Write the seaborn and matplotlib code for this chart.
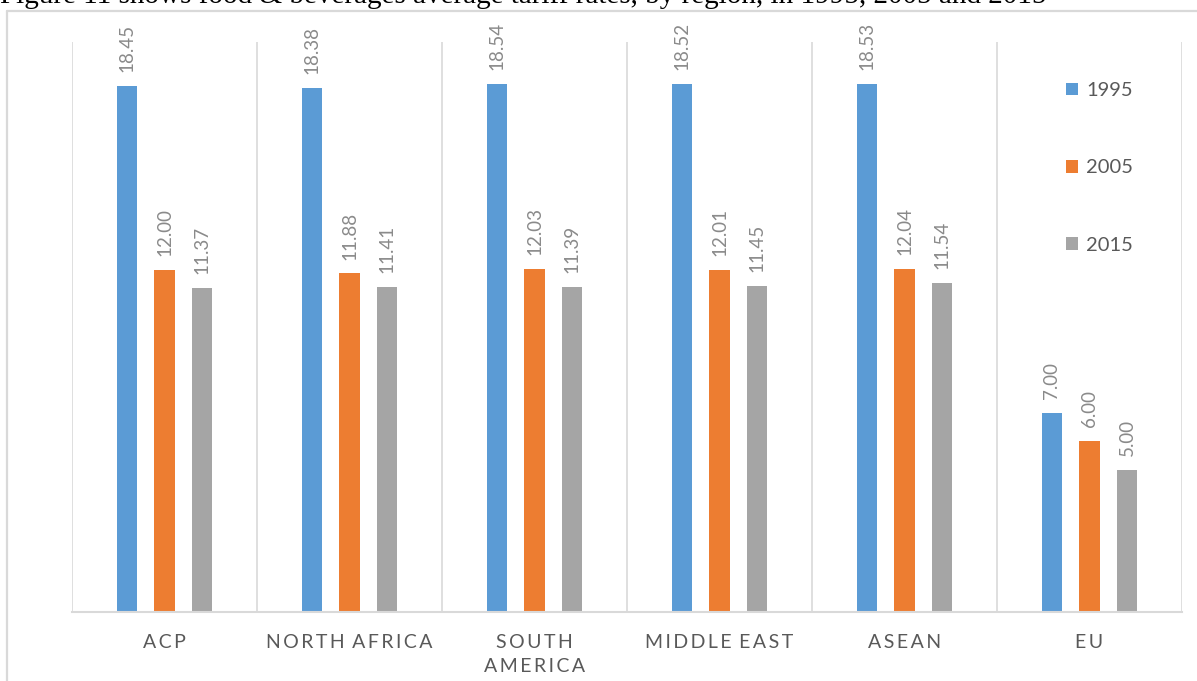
import numpy as np
import pandas as pd
import seaborn as sns
import matplotlib.pyplot as plt
from matplotlib.lines import Line2D
from matplotlib.patches import Patch

# Average food & beverage tariff rates by region
regions = ["ACP", "NORTH AFRICA", "SOUTH\nAMERICA", "MIDDLE EAST", "ASEAN", "EU"]
years = ["1995", "2005", "2015"]
rate_1995 = [18.45, 18.38, 18.54, 18.52, 18.53, 7.00]
rate_2005 = [12.00, 11.88, 12.03, 12.01, 12.04, 6.00]
rate_2015 = [11.37, 11.41, 11.39, 11.45, 11.54, 5.00]
colors = ["#5B9BD5", "#ED7D31", "#A5A5A5"]
caption = ("Figure 11 shows food & beverages average tariff rates, "
           "by region, in 1995, 2005 and 2015")

df = pd.DataFrame({
    "region": regions * 3,
    "year": np.repeat(years, len(regions)),
    "rate": rate_1995 + rate_2005 + rate_2015,
})

sns.set_theme(style="white")
plt.rcParams["font.family"] = ["Lato", "DejaVu Sans"]

W, H = 1197, 681
fig = plt.figure(figsize=(W / 100, H / 100), dpi=100)
ax = fig.add_axes([72 / W, 1 - 612 / H, (1182 - 72) / W, (612 - 42) / H])

sns.barplot(data=df, x="region", y="rate", hue="year", palette=colors,
            width=0.615, gap=0.47, saturation=1, edgecolor="none",
            legend=False, errorbar=None, ax=ax)

for cont in ax.containers:
    ax.bar_label(cont, fmt="%.2f", rotation=90, padding=10,
                 color="#8a8a8a", fontsize=13.5)

ax.set_xlim(-0.5, len(regions) - 0.5)
ax.set_ylim(0, 20)
ax.set_xlabel("")
ax.set_ylabel("")
ax.set_yticks([])

# letter-spaced category labels
def spaced(name):
    lines = []
    for line in name.split("\n"):
        words = ["\u2009".join(w) for w in line.split(" ")]
        lines.append(" \u2009".join(words))
    return "\n".join(lines)

ax.set_xticks(range(len(regions)))
ax.set_xticklabels([spaced(r) for r in regions], color="#595959",
                   fontsize=14, linespacing=1.45)
ax.tick_params(axis="x", which="major", length=0, pad=16)
ax.set_xticks(np.arange(-0.5, len(regions), 1), minor=True)
ax.tick_params(axis="x", which="minor", length=0)
ax.grid(which="minor", axis="x", color="#d9d9d9", lw=1.2)
ax.grid(which="major", axis="x", visible=False)
ax.grid(axis="y", visible=False)
for side in ["top", "left", "right"]:
    ax.spines[side].set_visible(False)
ax.spines["bottom"].set_color("#d9d9d9")
ax.spines["bottom"].set_linewidth(1.5)

handles = [Patch(facecolor=c, edgecolor="none") for c in colors]
fig.legend(handles, years, loc="center left",
           bbox_to_anchor=(1066 / W, 1 - 168 / H), frameon=False,
           handlelength=0.6, handleheight=0.6, handletextpad=0.4,
           labelspacing=3.0, borderpad=0, borderaxespad=0,
           prop=dict(family="Lato", size=14.5), labelcolor="#595959")

# chart border and the caption line above it
fig.add_artist(Line2D([7 / W, 1], [1 - 11 / H] * 2, transform=fig.transFigure,
                      color="#d9d9d9", lw=1.6))
fig.add_artist(Line2D([7 / W, 7 / W], [0, 1 - 11 / H], transform=fig.transFigure,
                      color="#d9d9d9", lw=1.6))
fig.text(0, 1 - 3 / H, caption, family="Liberation Serif", fontsize=21,
         va="baseline", ha="left", color="black")

fig.savefig("out.png", dpi=100)
